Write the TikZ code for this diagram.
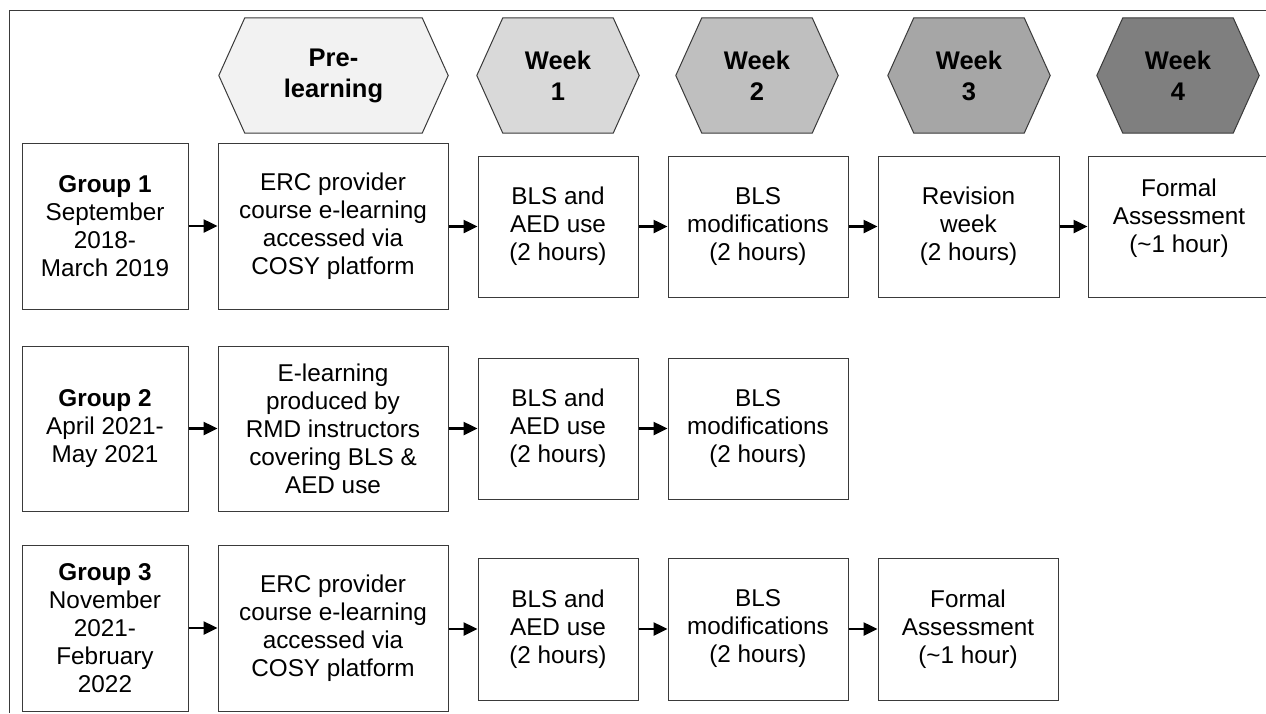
\documentclass[tikz,border=0pt]{standalone}
\usepackage{fontspec}
\setmainfont{Liberation Sans}
\usetikzlibrary{arrows.meta}
\definecolor{hexA}{HTML}{F2F2F2}
\definecolor{hexB}{HTML}{D9D9D9}
\definecolor{hexC}{HTML}{BFBFBF}
\definecolor{hexD}{HTML}{A6A6A6}
\definecolor{hexE}{HTML}{7F7F7F}
\definecolor{edge}{HTML}{3A3A3A}
\newcommand\hexa[5]{%
  \node[hexframe, minimum width=#3] (#1) at (#2,75.5) {};
  \filldraw[hexline, fill=#4] (#1.west) -- ([xshift=26pt]#1.north west) -- ([xshift=-26pt]#1.north east) -- (#1.east) -- ([xshift=-26pt]#1.south east) -- ([xshift=26pt]#1.south west) -- cycle;
  \node[hextext] (#1t) at (#1.center) {#5};
}
\begin{document}
\begin{tikzpicture}[x=1pt,y=-1pt,
  box/.style={draw=edge, line width=1pt, fill=white, inner sep=0pt, align=center,
    font=\fontsize{24.3}{28}\selectfont},
  txt/.style={inner sep=0pt, align=center, font=\fontsize{24.3}{28}\selectfont},
  hexframe/.style={inner sep=0pt, minimum height=115pt},
  hexline/.style={draw=edge, line width=1pt},
  hextext/.style={inner sep=0pt, align=center, font=\bfseries\fontsize{25.5}{31}\selectfont},
  arr/.style={line width=2.5pt, -{Triangle[length=14pt,width=13pt]}},
  frame/.style={draw=edge, line width=1pt}]
\useasboundingbox (0,0) rectangle (1266,713);
% frame
\coordinate (tl) at (9.5,10.5);
\coordinate (tr) at (1266,10.5);
\coordinate (bl) at (9.5,713);
\draw[frame] (tr) -- (tl) -- (bl);
% hexagons
\hexa{h0}{333.5}{229}{hexA}{Pre-\\learning}
\hexa{h1}{558}{162}{hexB}{Week\\1}
\hexa{h2}{757}{162}{hexC}{Week\\2}
\hexa{h3}{969}{162}{hexD}{Week\\3}
\hexa{h4}{1178}{162}{hexE}{Week\\4}
% row 1
\node[box, minimum width=166pt, minimum height=166pt] (g1) at (105,226) {\textbf{Group 1}\\September\\2018-\\March 2019};
\node[box, minimum width=230pt, minimum height=166pt] (p1) at (333,226) {ERC provider\\course e-learning\\accessed via\\COSY platform};
\node[box, minimum width=160pt, minimum height=141pt] (b1) at (558,226.5) {BLS and\\AED use\\(2 hours)};
\node[box, minimum width=180pt, minimum height=141pt] (m1) at (758,226.5) {BLS\\modifications\\(2 hours)};
\node[box, minimum width=181pt, minimum height=141pt] (r1) at (968.5,226.5) {Revision\\week\\(2 hours)};
\node[box, minimum width=182pt, minimum height=141pt] (f1) at (1179,226.5) {};
\node[txt] (f1t) at ([yshift=8pt]f1.center) {Formal\\Assessment\\(\textasciitilde1 hour)};
% row 2
\node[box, minimum width=166pt, minimum height=165pt] (g2) at (105,428.5) {\textbf{Group 2}\\April 2021-\\May 2021};
\node[box, minimum width=230pt, minimum height=165pt] (p2) at (333,428.5) {E-learning\\produced by\\RMD instructors\\covering BLS \&\\AED use};
\node[box, minimum width=160pt, minimum height=141pt] (b2) at (558,428.5) {BLS and\\AED use\\(2 hours)};
\node[box, minimum width=180pt, minimum height=141pt] (m2) at (758,428.5) {BLS\\modifications\\(2 hours)};
% row 3
\node[box, minimum width=166pt, minimum height=166pt] (g3) at (105,628) {\textbf{Group 3}\\November\\2021-\\February\\2022};
\node[box, minimum width=230pt, minimum height=166pt] (p3) at (333,628) {ERC provider\\course e-learning\\accessed via\\COSY platform};
\node[box, minimum width=160pt, minimum height=142pt] (b3) at (558,629) {BLS and\\AED use\\(2 hours)};
\node[box, minimum width=180pt, minimum height=142pt] (m3) at (758,629) {BLS\\modifications\\(2 hours)};
\node[box, minimum width=180pt, minimum height=142pt] (f3) at (968,629) {Formal\\Assessment\\(\textasciitilde1 hour)};
% arrows
\draw[arr] (g1) -- (p1);
\draw[arr] (p1.east |- b1.west) -- (b1.west);
\draw[arr] (b1) -- (m1);
\draw[arr] (m1) -- (r1);
\draw[arr] (r1) -- (f1.west |- r1.east);
\draw[arr] (g2) -- (p2);
\draw[arr] (p2) -- (b2);
\draw[arr] (b2) -- (m2);
\draw[arr] (g3) -- (p3);
\draw[arr] (p3.east |- b3.west) -- (b3.west);
\draw[arr] (b3) -- (m3);
\draw[arr] (m3) -- (f3);
\end{tikzpicture}
\end{document}
